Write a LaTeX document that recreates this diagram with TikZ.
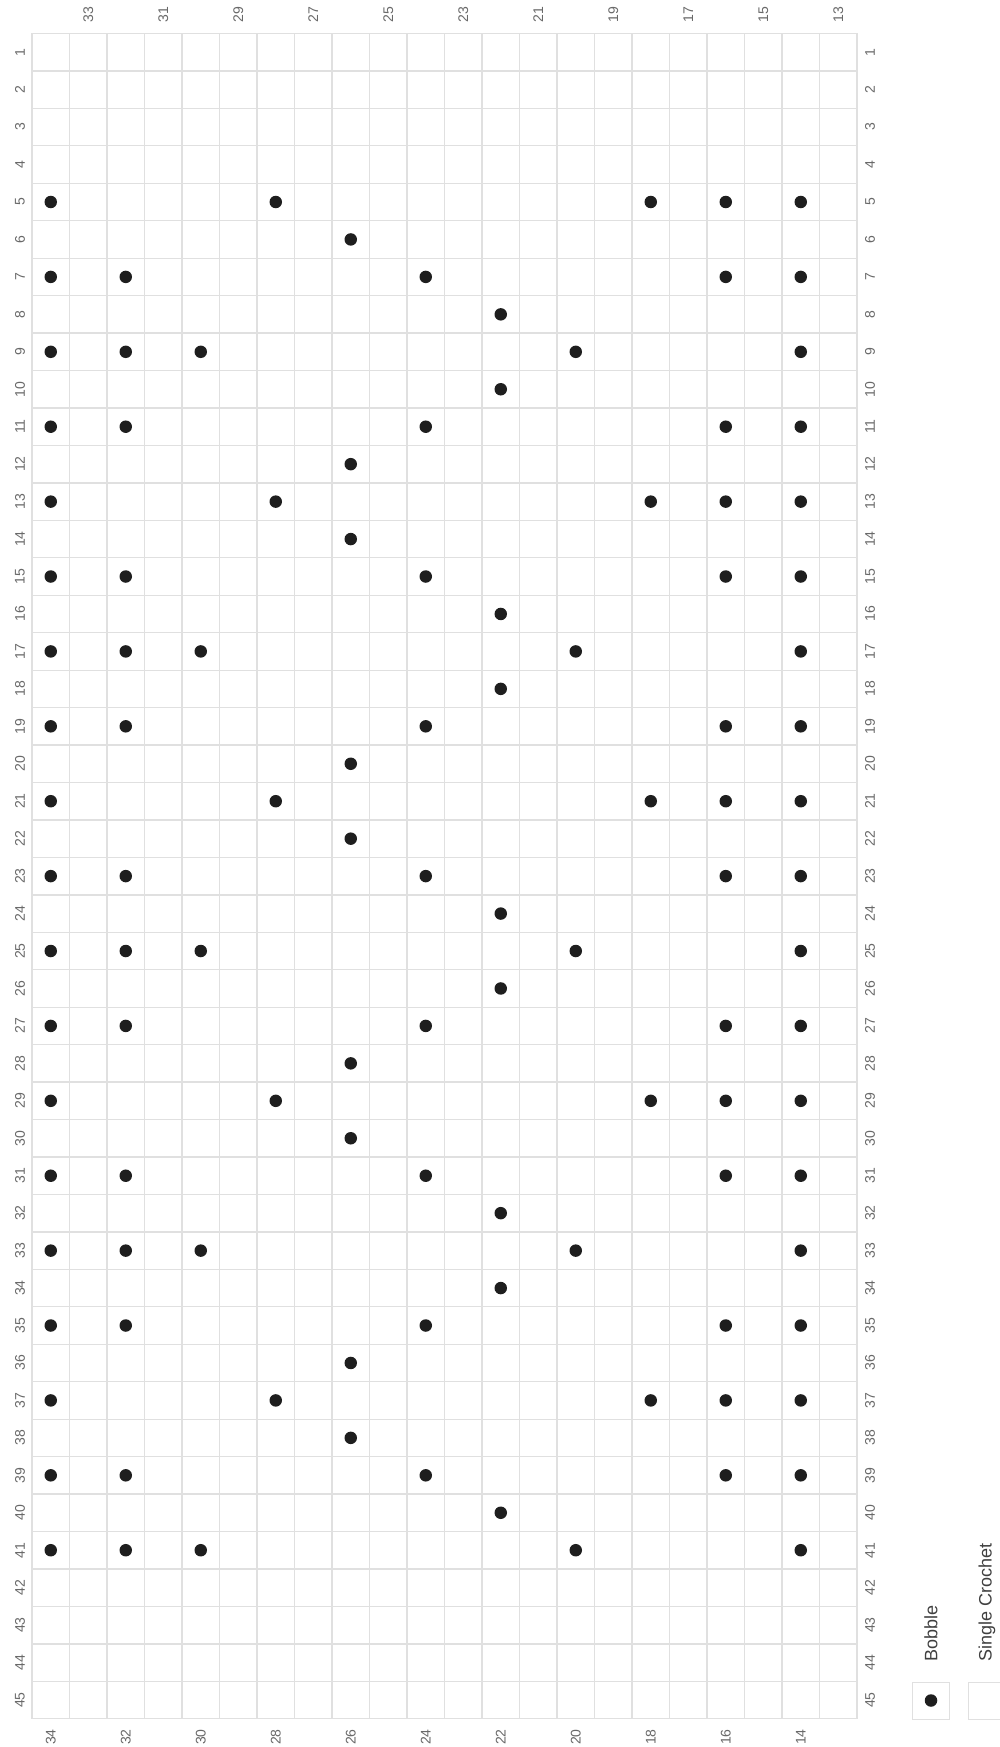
\documentclass[tikz,border=0pt]{standalone}
\usepackage{fontspec}
\setmainfont{Liberation Sans}
\usetikzlibrary{positioning}
\definecolor{gridgray}{RGB}{224,224,224}
\definecolor{labelgray}{RGB}{105,105,105}
\definecolor{bobbleblack}{RGB}{30,30,30}
\tikzset{
  % grid and labels
  cell line/.style={gridgray,line width=1.3pt},
  axis label/.style={labelgray,rotate=90,inner sep=0,font=\fontsize{14}{16}\selectfont},
  % stitches
  bobble/.style={circle,fill=bobbleblack,minimum size=12.5pt,inner sep=0},
  legend box/.style={draw=gridgray,line width=1pt,minimum size=37pt,inner sep=0},
  legend text/.style={rotate=90,anchor=west,inner sep=0,black!75,font=\fontsize{18}{20}\selectfont}
}

\begin{document}
\begin{tikzpicture}[x=1pt,y=-1pt]
  \useasboundingbox (0,0) rectangle (1000,1747);
  \fill[white] (0,0) rectangle (1000,1747);
  % Grid
  \foreach \i in {0,...,22}
    \draw[cell line] ({32+37.5*\i},33.5) -- ({32+37.5*\i},1719);
  \foreach \j in {0,...,45}
    \draw[cell line] (32,{33.5+37.45*\j}) -- (857,{33.5+37.45*\j});
  % Column labels
  \foreach \c in {13,15,...,33}
    \node[axis label] (top-\c) at ({50.75+37.5*(34-\c)},15) {\c};
  \foreach \c in {14,16,...,34}
    \node[axis label] (bot-\c) at ({50.75+37.5*(34-\c)},1737) {\c};
  % Row labels
  \foreach \r in {1,...,45} {
    \node[axis label] (left-\r) at (20,{52.2+37.45*(\r-1)}) {\r};
    \node[axis label] (right-\r) at (870,{52.2+37.45*(\r-1)}) {\r};
  }
  % Bobbles
  \foreach \r in {5,13,...,37}
    \foreach \c in {34,28,18,16,14}
      \node[bobble] (b-\r-\c) at ({50.75+37.5*(34-\c)},{52.2+37.45*(\r-1)}) {};
  \foreach \r in {7,11,...,39}
    \foreach \c in {34,32,24,16,14}
      \node[bobble] (b-\r-\c) at ({50.75+37.5*(34-\c)},{52.2+37.45*(\r-1)}) {};
  \foreach \r in {9,17,...,41}
    \foreach \c in {34,32,30,20,14}
      \node[bobble] (b-\r-\c) at ({50.75+37.5*(34-\c)},{52.2+37.45*(\r-1)}) {};
  \foreach \r in {6,12,14,20,22,28,30,36,38}
    \node[bobble] (b-\r-26) at ({50.75+37.5*8},{52.2+37.45*(\r-1)}) {};
  \foreach \r in {8,10,16,18,24,26,32,34,40}
    \node[bobble] (b-\r-22) at ({50.75+37.5*12},{52.2+37.45*(\r-1)}) {};
  % Legend
  \node[legend box] (bobble-box) at (931,1700.5) {};
  \node[bobble] (bobble-mark) at (bobble-box.center) {};
  \node[legend text] (bobble-text) at ([yshift=20pt]bobble-box.north) {Bobble};
  \node[legend box] (sc-box) at (987,1700.5) {};
  \node[legend text] (sc-text) at ([yshift=20pt]sc-box.north) {Single Crochet};
\end{tikzpicture}
\end{document}
